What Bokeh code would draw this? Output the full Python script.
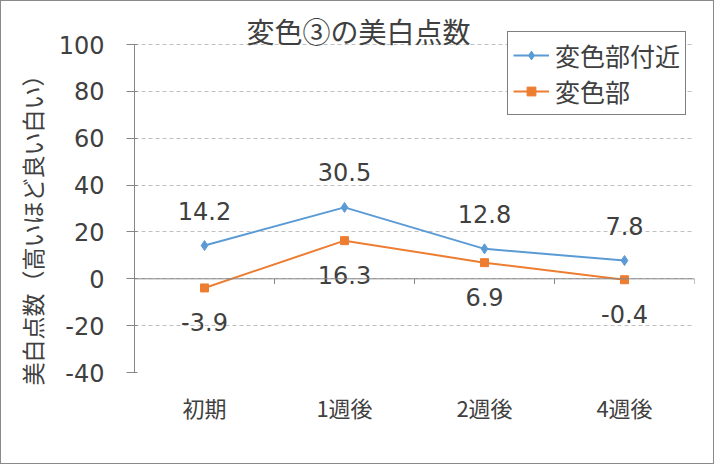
from bokeh.plotting import figure
from bokeh.models import (FactorRange, Range1d, FixedTicker, Span, Label, Legend,
                          LegendItem, ColumnDataSource, PrintfTickFormatter)
from bokeh.core.properties import value
from bokeh.embed import file_html
from bokeh.resources import INLINE

# ---- data ----
categories = ["初期", "1週後", "2週後", "4週後"]
near_values = [14.2, 30.5, 12.8, 7.8]      # 変色部付近
spot_values = [-3.9, 16.3, 6.9, -0.4]      # 変色部
y_ticks = [-40, -20, 0, 20, 40, 60, 80, 100]
title_text = "変色③の美白点数"
y_label = "美白点数（高いほど良い白い）"
series_names = ["変色部付近", "変色部"]

BLUE = "#5B9BD5"
ORANGE = "#ED7D31"
TXT = "#404040"
CJK = "Noto Sans CJK JP"
NUM = "DejaVu Sans"

axis_px = 327
top_pad_px = 43
y_min, y_max = min(y_ticks), max(y_ticks)
y_top = y_max + top_pad_px * (y_max - y_min) / axis_px

p = figure(width=714, height=464, output_backend="svg", toolbar_location=None,
           x_range=FactorRange(factors=categories), y_range=Range1d(y_min, y_top),
           min_border_left=133, min_border_right=21, min_border_top=0,
           min_border_bottom=93)
p.styles = {"border": "1px solid #8a8a8a"}
p.outline_line_color = None
p.background_fill_color = "white"
p.border_fill_color = "white"

# axes
p.yaxis.ticker = FixedTicker(ticks=y_ticks)
p.yaxis.bounds = (y_min, y_max)
p.yaxis.formatter = PrintfTickFormatter(format="%d")
p.yaxis.axis_line_color = "#868686"
p.yaxis.major_tick_line_color = "#868686"
p.yaxis.major_tick_out = 8
p.yaxis.major_tick_in = 3
p.yaxis.minor_tick_line_color = None
p.yaxis.major_label_text_font = NUM
p.yaxis.major_label_text_font_size = "24px"
p.yaxis.major_label_text_color = TXT
p.yaxis.major_label_standoff = 22

p.xaxis.axis_line_color = None
p.xaxis.major_tick_line_color = None
p.xaxis.minor_tick_line_color = None
p.xaxis.major_label_text_font = CJK
p.xaxis.major_label_text_font_size = "22px"
p.xaxis.major_label_text_color = TXT
p.xaxis.major_label_standoff = 12

p.xgrid.grid_line_color = None
p.ygrid.grid_line_color = "#BFBFBF"
p.ygrid.grid_line_dash = "4 3"
p.ygrid.grid_line_width = 1

# y-axis title, placed in the left panel (y measured from the panel bottom)
p.add_layout(Label(x=10, y=148, x_units="screen", y_units="screen", text=y_label,
                   angle=90, angle_units="deg", text_font=CJK, text_font_size="23px",
                   text_color=TXT, text_align="center", text_baseline="middle"), "left")

# zero axis line with category boundary ticks
p.add_layout(Span(location=0, dimension="width", line_color="#868686", line_width=1))
bounds = [(c, -0.5) for c in categories[1:]] + [(categories[-1], 0.5)]
p.segment(x0=bounds, x1=bounds, y0=[0] * len(bounds), y1=[-2.2] * len(bounds),
          line_color="#868686", line_width=1)

# series
src = ColumnDataSource(dict(x=categories, near=near_values, spot=spot_values,
                            near_t=[f"{v:.1f}" for v in near_values],
                            spot_t=[f"{v:.1f}" for v in spot_values]))
l1 = p.line("x", "near", source=src, line_color=BLUE, line_width=2)
m1 = p.scatter("x", "near", source=src, marker="diamond", size=10,
               fill_color=BLUE, line_color=BLUE)
l2 = p.line("x", "spot", source=src, line_color=ORANGE, line_width=2)
m2 = p.scatter("x", "spot", source=src, marker="square", size=8,
               fill_color=ORANGE, line_color=ORANGE)

p.text("x", "near", text="near_t", source=src, text_font=value(NUM),
       text_font_size="24px", text_color=TXT, text_align="center",
       text_baseline="middle", y_offset=-35)
p.text("x", "spot", text="spot_t", source=src, text_font=value(NUM),
       text_font_size="24px", text_color=TXT, text_align="center",
       text_baseline="middle", y_offset=34)

# title (inside the frame's free top band)
p.add_layout(Label(x=224, y=342, x_units="screen", y_units="screen", text=title_text,
                   text_font=CJK, text_font_size="28px", text_color=TXT,
                   text_align="center", text_baseline="middle"))

legend = Legend(items=[LegendItem(label=series_names[0], renderers=[l1, m1]),
                       LegendItem(label=series_names[1], renderers=[l2, m2])],
                location=(373, 257))
legend.label_text_font = CJK
legend.label_text_font_size = "25px"
legend.label_text_color = TXT
legend.border_line_color = "black"
legend.border_line_width = 1.5
legend.background_fill_color = "white"
legend.background_fill_alpha = 1
legend.glyph_width = 36
legend.glyph_height = 22
legend.label_height = 22
legend.label_standoff = 6
legend.spacing = 0
legend.padding = 5
legend.margin = 0
p.add_layout(legend)

open("out.html", "w").write(file_html(p, INLINE))
